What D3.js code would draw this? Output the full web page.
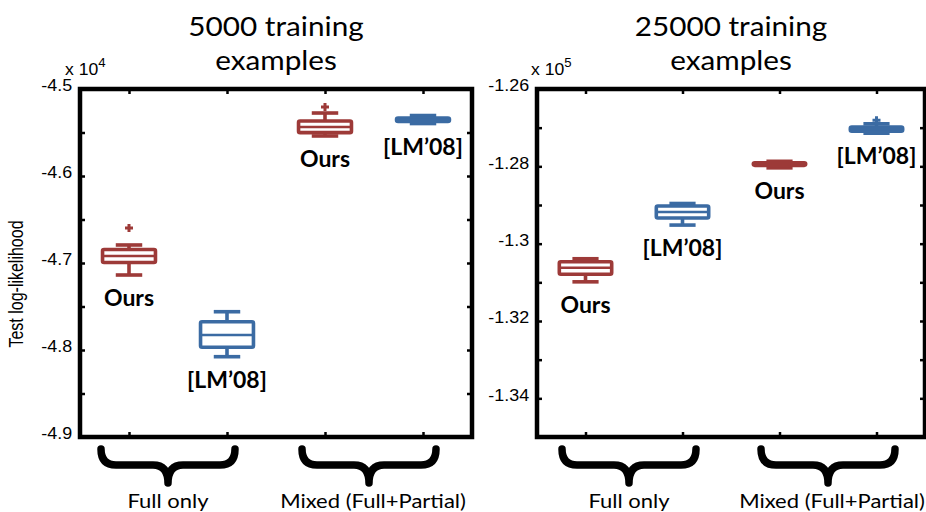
<!DOCTYPE html>
<html>
<head>
<meta charset="utf-8">
<script src="https://cdn.jsdelivr.net/npm/d3@7"></script>
<style>
  html, body { margin: 0; padding: 0; background: #fff; }
  svg { display: block; }
</style>
</head>
<body>
<svg id="chart" width="926" height="512"></svg>
<script>
// ---- data -------------------------------------------------------------
const groups = ["Full only", "Mixed (Full+Partial)"];
const methods = ["Ours", "[LM\u201908]"];
// box order: Ours/Full, LM/Full, Ours/Mixed, LM/Mixed
const boxMethod = [0, 1, 0, 1];

// 5000 training examples (x 10^4): [low whisker, q1, median, q3, high whisker]
const stats5000 = [
  [-4.7138, -4.6994, -4.6920, -4.6845, -4.6793],
  [-4.8077, -4.7969, -4.7828, -4.7675, -4.7560],
  [-4.5540, -4.5502, -4.5437, -4.5368, -4.5276],
  [-4.5397, -4.5374, -4.5354, -4.5333, -4.5305]
];
const outliers5000 = [[-4.6598], [], [-4.5207], []];
const ticks5000 = [-4.9, -4.85, -4.8, -4.75, -4.7, -4.65, -4.6, -4.55, -4.5];
const labels5000 = ["-4.9", "", "-4.8", "", "-4.7", "", "-4.6", "", "-4.5"];

// 25000 training examples (x 10^5)
const stats25000 = [
  [-1.30987, -1.30792, -1.30623, -1.30468, -1.30390],
  [-1.29519, -1.29338, -1.29182, -1.29026, -1.28961],
  [-1.28039, -1.27974, -1.27935, -1.27910, -1.27870],
  [-1.27143, -1.27091, -1.27039, -1.26987, -1.26900]
];
const outliers25000 = [[], [], [], [-1.26805]];
const ticks25000 = [-1.35, -1.34, -1.33, -1.32, -1.31, -1.30, -1.29, -1.28, -1.27, -1.26];
const labels25000 = ["", "-1.34", "", "-1.32", "", "-1.3", "", "-1.28", "", "-1.26"];

const titles = [["5000 training", "examples"], ["25000 training", "examples"]];
const exponents = ["4", "5"];
const yLabel = "Test log-likelihood";

// ---- drawing ----------------------------------------------------------
const RED = "#9d3a38", BLUE = "#3b6ba3";
const colors = [RED, BLUE];
const SANS = "'Liberation Sans', Arial, sans-serif";
const BODY = "Lato, 'Open Sans', sans-serif";
const WIDE = 1.1;   // slightly widened lettering
const svg = d3.select("#chart");

// text placed at (x, y) and widened horizontally about its anchor
function label(sel, x, y, str, size, family, anchor, weight) {
  return sel.append("text")
    .attr("transform", `translate(${x},${y}) scale(${WIDE},1)`)
    .attr("text-anchor", anchor || "middle")
    .style("font-family", family).style("font-size", size + "px")
    .style("font-weight", weight || "normal")
    .text(str);
}

function panel(opt) {
  const { left, right, top, bottom, domain, stats, outliers, ticks, tickLabels, title, exp, expX, braceShift } = opt;
  const g = svg.append("g");

  const x = d3.scaleBand().domain(d3.range(stats.length)).range([left, right]).padding(0);
  const y = d3.scaleLinear().domain(domain).range([bottom, top]);
  const cx = i => x(i) + x.bandwidth() / 2;
  const boxW = x.bandwidth() * 0.54;
  const capW = x.bandwidth() * 0.27;

  // axes with inward ticks
  const axisStyle = sel => {
    sel.select(".domain").remove();
    sel.selectAll(".tick line").attr("stroke", "#000").attr("stroke-width", 2.5);
    sel.selectAll(".tick text").attr("fill", "#000")
      .style("font-family", SANS).style("font-size", "16px");
  };
  g.append("g").attr("transform", `translate(${left},0)`)
    .call(d3.axisLeft(y).tickValues(ticks).tickSize(-5).tickPadding(7)
      .tickFormat((d, i) => tickLabels[i]))
    .call(axisStyle)
    .selectAll(".tick text").attr("dy", "0.12em").attr("transform", `scale(${WIDE + 0.02},1)`);
  g.append("g").attr("transform", `translate(${right},0)`)
    .call(d3.axisRight(y).tickValues(ticks).tickSize(-5).tickFormat(""))
    .call(axisStyle);
  const xt = d3.scalePoint().domain(d3.range(stats.length)).range([cx(0), cx(stats.length - 1)]);
  g.append("g").attr("transform", `translate(0,${top})`)
    .call(d3.axisTop(xt).tickSize(-5).tickFormat(""))
    .call(axisStyle);
  g.append("g").attr("transform", `translate(0,${bottom})`)
    .call(d3.axisBottom(xt).tickSize(-5).tickFormat(""))
    .call(axisStyle);

  // frame
  g.append("rect").attr("x", left).attr("y", top)
    .attr("width", right - left).attr("height", bottom - top)
    .attr("fill", "none").attr("stroke", "#000").attr("stroke-width", 4.5);

  // exponent note
  const ex = label(g, expX, top - 14, "", 16, SANS, "start");
  ex.append("tspan").text("x 10");
  ex.append("tspan").attr("dy", -8).style("font-size", "12px").text(exp);

  // boxes
  stats.forEach((s, i) => {
    const c = colors[boxMethod[i]];
    const bx = g.append("g").attr("stroke", c).attr("fill", "none")
      .attr("stroke-width", 3.6).attr("stroke-linecap", "butt");
    const xc = cx(i);
    bx.append("line").attr("x1", xc).attr("x2", xc).attr("y1", y(s[0])).attr("y2", y(s[1]));
    bx.append("line").attr("x1", xc).attr("x2", xc).attr("y1", y(s[3])).attr("y2", y(s[4]));
    bx.append("line").attr("x1", xc - capW / 2).attr("x2", xc + capW / 2).attr("y1", y(s[0])).attr("y2", y(s[0]));
    bx.append("line").attr("x1", xc - capW / 2).attr("x2", xc + capW / 2).attr("y1", y(s[4])).attr("y2", y(s[4]));
    bx.append("rect").attr("x", xc - boxW / 2).attr("width", boxW)
      .attr("y", y(s[3])).attr("height", Math.max(y(s[1]) - y(s[3]), 0.5))
      .attr("rx", 1.5).attr("fill", "#fff");
    bx.append("line").attr("x1", xc - boxW / 2).attr("x2", xc + boxW / 2)
      .attr("y1", y(s[2])).attr("y2", y(s[2])).attr("stroke-width", 2.5);
    outliers[i].forEach(o => {
      bx.append("path").attr("stroke-width", 3)
        .attr("d", `M${xc - 4},${y(o)}H${xc + 4}M${xc},${y(o) - 4}V${y(o) + 4}`);
    });
    // method label below the box
    g.append("text").attr("x", xc).attr("y", y(s[0]) + 23).attr("dy", "0.35em")
      .attr("text-anchor", "middle")
      .style("font-family", BODY).style("font-weight", "bold")
      .style("font-size", "23px").text(methods[boxMethod[i]]);
  });

  // title
  const tx = (left + right) / 2;
  title.forEach((t, k) => label(g, tx, 36 + k * 34, t, 27, BODY));

  // braces grouping category pairs
  const bTop = bottom + 12, bMid = bottom + 28, bTip = bottom + 46, r = 15, half = 67;
  groups.forEach((name, k) => {
    const xm = (cx(2 * k) + cx(2 * k + 1)) / 2 + braceShift[k];
    const x0 = xm - half, x1 = xm + half;
    g.append("path").attr("fill", "none").attr("stroke", "#000").attr("stroke-width", 7.5)
      .attr("stroke-linecap", "round").attr("stroke-linejoin", "round")
      .attr("d", `M${x0},${bTop} Q${x0},${bMid} ${x0 + r},${bMid} L${xm - r},${bMid}
                  Q${xm},${bMid} ${xm},${bTip} Q${xm},${bMid} ${xm + r},${bMid}
                  L${x1 - r},${bMid} Q${x1},${bMid} ${x1},${bTop}`);
    label(g, xm + (k === 1 ? 4 : 0), bottom + 71, name, 20, BODY);
  });
}

panel({ left: 80, right: 472, top: 89, bottom: 437, domain: [-4.9, -4.5],
  stats: stats5000, outliers: outliers5000, ticks: ticks5000, tickLabels: labels5000,
  title: titles[0], exp: exponents[0], expX: 65, braceShift: [-10, -5] });
panel({ left: 537, right: 925, top: 89, bottom: 437, domain: [-1.35, -1.26],
  stats: stats25000, outliers: outliers25000, ticks: ticks25000, tickLabels: labels25000,
  title: titles[1], exp: exponents[1], expX: 531, braceShift: [-5, 0] });

// shared y-axis title
svg.append("text").attr("transform", "translate(23,284) rotate(-90) scale(1,1.22)")
  .attr("text-anchor", "middle")
  .style("font-family", SANS).style("font-size", "16px")
  .text(yLabel);
</script>
</body>
</html>
